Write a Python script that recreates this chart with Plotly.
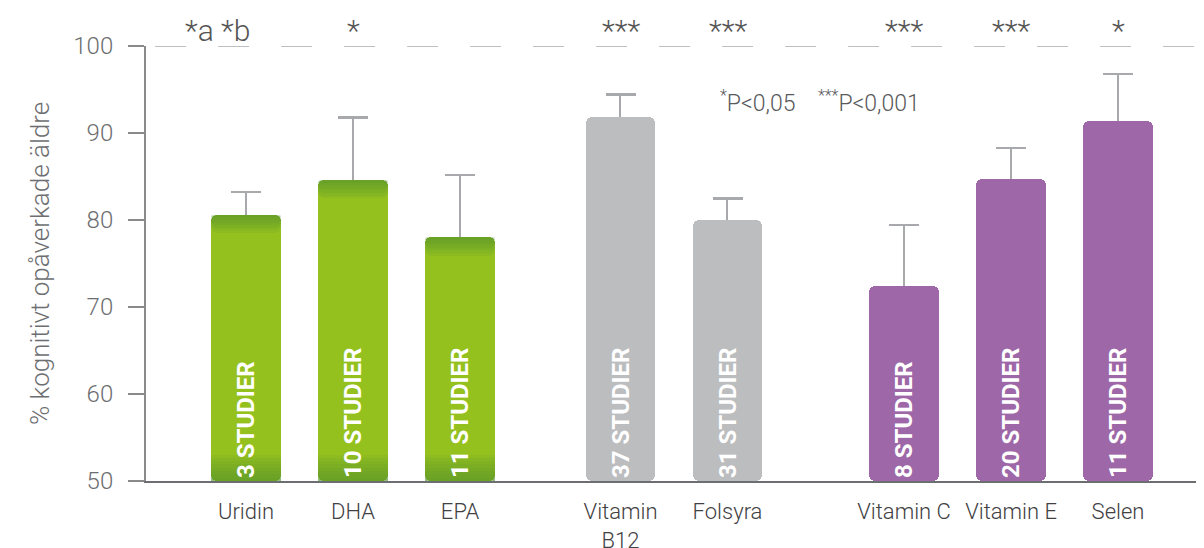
import plotly.graph_objects as go

# ---------------- data ----------------
categories = ["Uridin", "DHA", "EPA", "Vitamin<br>B12", "Folsyra", "Vitamin C", "Vitamin E", "Selen"]
groups = [0, 0, 0, 1, 1, 2, 2, 2]
values = [80.6, 84.6, 78.0, 91.8, 80.0, 72.4, 84.7, 91.4]
err_plus = [2.6, 7.2, 7.2, 2.6, 2.5, 7.0, 3.6, 5.4]
studies = ["3 STUDIER", "10 STUDIER", "11 STUDIER", "37 STUDIER", "31 STUDIER",
           "8 STUDIER", "20 STUDIER", "11 STUDIER"]
signif = ["*a *b", "*", "", "***", "***", "***", "***", "*"]
y_ticks = [50, 60, 70, 80, 90, 100]
y_title = "% kognitivt opåverkade äldre"
legend_text = "<sup>*</sup>P&lt;0,05    <sup>***</sup>P&lt;0,001"

# ---------------- styling ----------------
GROUP_GAP = [0.0, 0.5, 1.15]
GROUP_COLORS = ["#95c11f", "#bcbdbf", "#9e67a8"]
xpos = [i + GROUP_GAP[g] for i, g in enumerate(groups)]
colors = [GROUP_COLORS[g] for g in groups]
BAR_W = 0.65
STEM_W = 0.018
FONT = "Roboto"
n = len(values)

fig = go.Figure()

# error-bar stems (behind bars), with a zero-length error bar drawing the cap
fig.add_trace(go.Bar(
    x=xpos, y=err_plus, base=values, width=STEM_W,
    marker=dict(color="#a7a9ac", line=dict(width=0), cornerradius=0),
    error_y=dict(type="data", array=[0] * n, color="#a7a9ac", thickness=2.5, width=15),
    showlegend=False, hoverinfo="skip", cliponaxis=False,
))

# main bars
fig.add_trace(go.Bar(
    x=xpos, y=[v - 50 for v in values], base=50, width=BAR_W,
    marker=dict(color=colors, line=dict(width=0), cornerradius=6),
    showlegend=False, hoverinfo="skip",
))

# green gradient overlays (top and bottom shading)
green_idx = [i for i, g in enumerate(groups) if g == 0]
gx = [xpos[i] for i in green_idx]
gv = [values[i] for i in green_idx]
for k in range(1, 8):
    h = 0.3 * k
    fig.add_trace(go.Bar(
        x=gx, y=[h] * len(gx), base=[v - h for v in gv], width=BAR_W,
        marker=dict(color="rgba(85,150,45,0.13)", line=dict(width=0), cornerradius=6),
        showlegend=False, hoverinfo="skip",
    ))
for k in range(1, 9):
    h = 0.38 * k
    fig.add_trace(go.Bar(
        x=gx, y=[h] * len(gx), base=50, width=BAR_W,
        marker=dict(color="rgba(85,150,45,0.11)", line=dict(width=0), cornerradius=0),
        showlegend=False, hoverinfo="skip",
    ))

# transparent bars carrying the study counts (drawn on top)
fig.add_trace(go.Bar(
    x=xpos, y=[v - 50 for v in values], base=50, width=BAR_W,
    marker=dict(color="rgba(0,0,0,0)", line=dict(width=0)),
    text=studies, textposition="inside", insidetextanchor="start", textangle=-90,
    textfont=dict(family=FONT, size=24, color="white", weight="bold"),
    showlegend=False, hoverinfo="skip",
))

# dashed reference line at 100
fig.add_shape(type="line", xref="x", yref="y", x0=-0.85, x1=8.88, y0=100, y1=100,
              line=dict(color="#a9abae", width=1.5, dash="31px,32px"), layer="below")

# significance stars
for i, s in enumerate(signif):
    if not s:
        continue
    fig.add_annotation(x=xpos[i], y=100, yref="y", text=s, showarrow=False,
                       yanchor="bottom", yshift=-4, xshift=(-28 if i == 0 else 0),
                       font=dict(family=FONT, size=30, color="#555555", weight=300))

fig.add_annotation(x=4.41, y=93.6, xanchor="left", yanchor="middle", text=legend_text,
                   showarrow=False, font=dict(family=FONT, size=23, color="#58595b", weight=300))

# the page adds an 8px body margin, so the figure is sized/offset to compensate
fig.update_layout(
    width=1196, height=540,
    margin=dict(l=138, r=4, t=38, b=67),
    plot_bgcolor="white", paper_bgcolor="white",
    barmode="overlay", bargap=0,
    xaxis=dict(range=[-0.935, 8.916], tickvals=xpos, ticktext=categories,
               automargin=False,
               showgrid=False, zeroline=False, showline=True, linecolor="#6d6e71",
               linewidth=1.5, ticks="", ticklabelstandoff=10,
               tickfont=dict(family=FONT, size=22, color="#414042", weight=300)),
    yaxis=dict(range=[50, 100], tickvals=y_ticks, showgrid=False, zeroline=False,
               automargin=False,
               showline=True, linecolor="#8a8a8d", linewidth=2,
               ticks="outside", ticklen=16, tickwidth=2, tickcolor="#8a8a8d",
               ticklabelstandoff=10,
               tickfont=dict(family=FONT, size=24, color="#6d6e71", weight=300),
               title=dict(text=y_title, standoff=16,
                          font=dict(family=FONT, size=26, color="#6d6e71", weight=300))),
)

fig.write_html("out.html")
